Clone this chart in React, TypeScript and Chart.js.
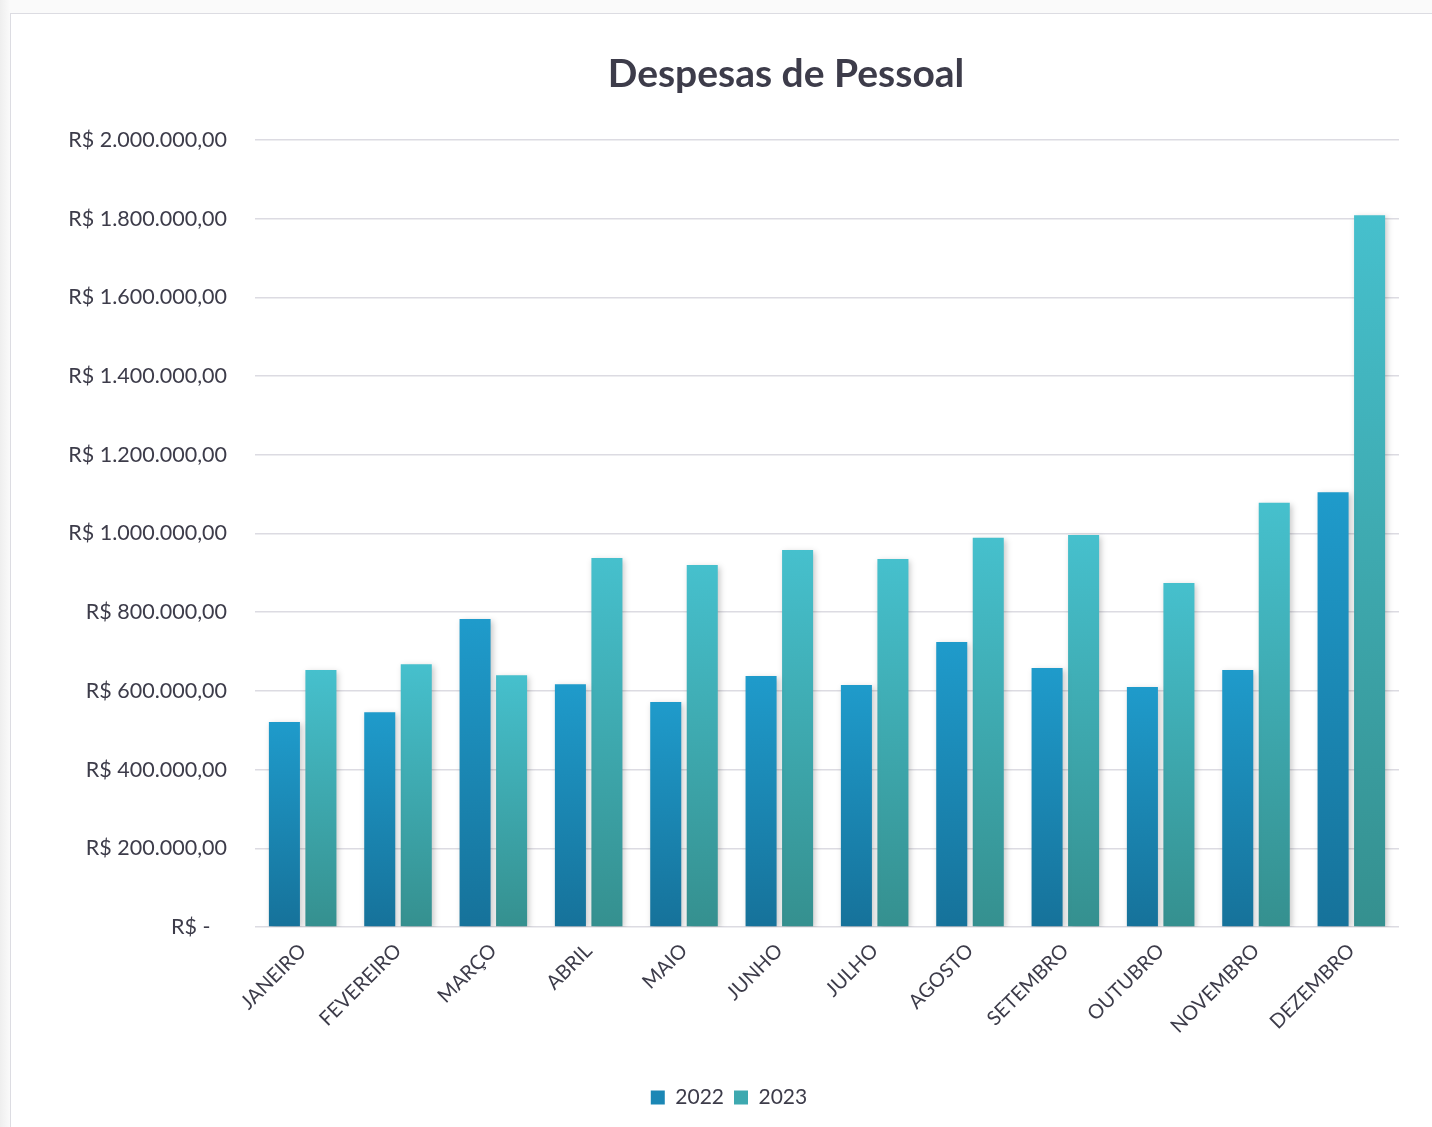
import React, { useEffect, useRef } from "react";
import { Chart, registerables } from "chart.js";

Chart.register(...registerables);

const TITLE = "Despesas de Pessoal";
const MONTHS = [
  "JANEIRO", "FEVEREIRO", "MARÇO", "ABRIL", "MAIO", "JUNHO",
  "JULHO", "AGOSTO", "SETEMBRO", "OUTUBRO", "NOVEMBRO", "DEZEMBRO",
];
const SERIES_NAMES = ["2022", "2023"];
const VALUES_2022 = [521000, 546000, 783000, 617000, 572000, 638000, 615000, 724000, 658000, 610000, 653000, 1105000];
const VALUES_2023 = [653000, 668000, 640000, 938000, 920000, 958000, 935000, 989000, 996000, 874000, 1078000, 1809000];
const Y_MIN = 0;
const Y_MAX = 2000000;
const Y_STEP = 200000;

const COLORS_2022 = { top: "#1f9bcb", bottom: "#16729a", legend: "#1b87b5" };
const COLORS_2023 = { top: "#46c0cd", bottom: "#35908f", legend: "#3ea9b0" };

const TEXT_COLOR = "#3d3c4a";
const FONT = "Lato, 'Noto Sans', sans-serif";

function formatBRL(v: number): string {
  if (v === 0) return "R$ -   ";
  const intPart = Math.round(v).toString().replace(/\B(?=(\d{3})+(?!\d))/g, ".");
  return "R$ " + intPart + ",00";
}

function gradientFor(colors: { top: string; bottom: string }) {
  return (context: any) => {
    const chart = context.chart;
    const { ctx, chartArea, scales } = chart;
    if (!chartArea || !scales || !scales.y || context.type !== "data") return colors.top;
    const v = context.raw as number;
    const yTop = scales.y.getPixelForValue(v);
    const yBase = scales.y.getPixelForValue(0);
    if (!isFinite(yTop) || !isFinite(yBase) || yTop === yBase) return colors.top;
    const g = ctx.createLinearGradient(0, yTop, 0, yBase);
    g.addColorStop(0, colors.top);
    g.addColorStop(1, colors.bottom);
    return g;
  };
}

const shadowPlugin = {
  id: "barShadow",
  beforeDatasetsDraw(chart: any) {
    const ctx = chart.ctx;
    ctx.save();
    ctx.shadowColor = "rgba(0,0,0,0.22)";
    ctx.shadowBlur = 6;
    ctx.shadowOffsetX = 2;
    ctx.shadowOffsetY = 2;
  },
  afterDatasetsDraw(chart: any) {
    chart.ctx.restore();
  },
};

const titlePlugin = {
  id: "offsetTitle",
  afterDraw(chart: any) {
    const ctx = chart.ctx;
    ctx.save();
    ctx.font = "bold 39px " + FONT;
    ctx.fillStyle = TEXT_COLOR;
    ctx.textAlign = "center";
    ctx.textBaseline = "middle";
    ctx.fillText(TITLE, 775, 60);
    ctx.restore();
  },
};

const legendShiftPlugin = {
  id: "legendShift",
  afterLayout(chart: any) {
    const lg = chart.legend;
    if (lg) {
      lg.left += 24;
      lg.right += 24;
    }
  },
};

export default function App() {
  const canvasRef = useRef<HTMLCanvasElement | null>(null);

  useEffect(() => {
    document.body.style.margin = "0";
    const canvas = canvasRef.current;
    if (!canvas) return;
    const chart = new Chart(canvas, {
      type: "bar",
      data: {
        labels: MONTHS,
        datasets: [
          {
            label: SERIES_NAMES[0],
            data: VALUES_2022,
            backgroundColor: gradientFor(COLORS_2022),
            borderWidth: 0,
            categoryPercentage: 0.766,
            barPercentage: 0.85,
          },
          {
            label: SERIES_NAMES[1],
            data: VALUES_2023,
            backgroundColor: gradientFor(COLORS_2023),
            borderWidth: 0,
            categoryPercentage: 0.766,
            barPercentage: 0.85,
          },
        ],
      },
      plugins: [shadowPlugin, titlePlugin, legendShiftPlugin],
      options: {
        animation: false,
        responsive: false,
        maintainAspectRatio: false,
        devicePixelRatio: 1,
        layout: { padding: { top: 126, right: 34, bottom: 10, left: 0 } },
        plugins: {
          title: { display: false },
          legend: {
            display: true,
            position: "bottom",
            labels: {
              color: TEXT_COLOR,
              font: { family: FONT, size: 21 },
              boxWidth: 14,
              boxHeight: 14,
              padding: 10,
              generateLabels: (ch: any) =>
                ch.data.datasets.map((ds: any, i: number) => ({
                  text: ds.label,
                  fillStyle: i === 0 ? COLORS_2022.legend : COLORS_2023.legend,
                  strokeStyle: "transparent",
                  lineWidth: 0,
                  fontColor: TEXT_COLOR,
                  hidden: false,
                  datasetIndex: i,
                })),
            },
          },
          tooltip: { enabled: false },
        },
        scales: {
          x: {
            grid: { display: false, drawTicks: false },
            border: { display: false },
            ticks: {
              color: TEXT_COLOR,
              font: { family: FONT, size: 20 },
              minRotation: 45,
              maxRotation: 45,
              padding: 12,
              autoSkip: false,
            },
            afterFit: (scale: any) => {
              scale.height = 150;
            },
          },
          y: {
            min: Y_MIN,
            max: Y_MAX,
            grid: { color: "#dcdbe2", lineWidth: 1.6, drawTicks: false },
            border: { display: false },
            ticks: {
              stepSize: Y_STEP,
              color: TEXT_COLOR,
              font: { family: FONT, size: 21.5 },
              padding: 28,
              callback: (v: any) => formatBRL(Number(v)),
            },
            afterFit: (scale: any) => {
              scale.width = 244;
            },
          },
        },
      },
    });
    return () => chart.destroy();
  }, []);

  return (
    <div
      style={{
        position: "fixed",
        left: 0,
        top: 0,
        width: 1432,
        height: 1127,
        overflow: "hidden",
        background: "linear-gradient(90deg, #eeeeee 0px, #fafafa 10px)",
      }}
    >
      <div
        style={{
          position: "absolute",
          left: 10,
          top: 13,
          width: 1440,
          height: 1130,
          background: "#ffffff",
          borderLeft: "1.5px solid #dcdce2",
          borderTop: "1.5px solid #dcdce2",
          boxSizing: "border-box",
        }}
      >
        <canvas ref={canvasRef} width={1422} height={1114} style={{ display: "block" }} />
      </div>
    </div>
  );
}
